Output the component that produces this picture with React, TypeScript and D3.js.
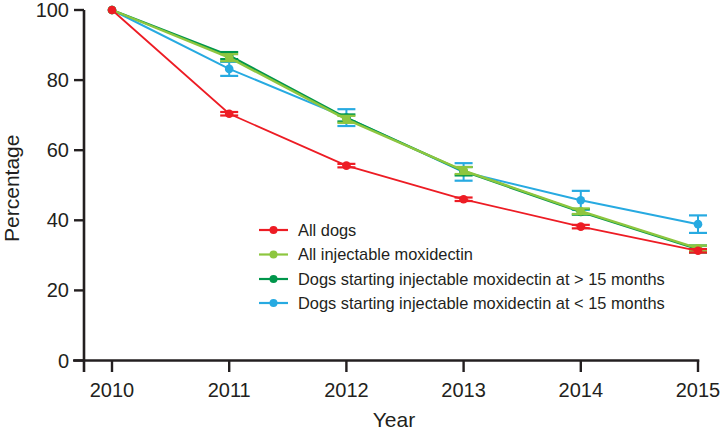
import React from "react";
import * as d3 from "d3";

const years = [2010, 2011, 2012, 2013, 2014, 2015];
const yTicks = [0, 20, 40, 60, 80, 100];

const allDogs = [100, 70.4, 55.6, 46.0, 38.2, 31.3];
const allDogsErr = [0, 0.5, 0.5, 0.5, 0.5, 0.5];
const allInj = [100, 86.4, 68.8, 54.2, 42.6, 32.0];
const allInjErr = [0, 1.0, 1.0, 1.0, 0.8, 0.8];
const over15 = [100, 87.0, 69.2, 54.0, 42.4, 31.8];
const over15Err = [0, 1.0, 1.0, 1.2, 0.8, 1.0];
const under15 = [100, 83.2, 69.3, 53.8, 45.7, 38.9];
const under15Err = [0, 2.0, 2.4, 2.5, 2.7, 2.5];

const seriesNames = [
  "All dogs",
  "All injectable moxidectin",
  "Dogs starting injectable moxidectin at > 15 months",
  "Dogs starting injectable moxidectin at < 15 months",
];
const seriesColors = ["#ed1c24", "#8dc63f", "#00964b", "#27aae1"];

const W = 722;
const H = 430;
const FONT = "'Liberation Sans', Arial, Helvetica, sans-serif";
const AXIS = "#231f20";

export default function App() {
  const x = d3.scaleLinear().domain([2010, 2015]).range([112, 698]);
  const y = d3.scaleLinear().domain([0, 100]).range([360.5, 10]);

  const series = [
    { name: seriesNames[3], color: seriesColors[3], vals: under15, err: under15Err, width: 2 },
    { name: seriesNames[2], color: seriesColors[2], vals: over15, err: over15Err, width: 2.4 },
    { name: seriesNames[1], color: seriesColors[1], vals: allInj, err: allInjErr, width: 2.4 },
    { name: seriesNames[0], color: seriesColors[0], vals: allDogs, err: allDogsErr, width: 1.8 },
  ];

  const line = d3
    .line<number>()
    .x((_, i) => x(years[i]))
    .y((d) => y(d));

  const legendY = [230, 254.5, 279, 303];

  return (
    <svg
      width={W}
      height={H}
      style={{ position: "absolute", left: 0, top: 0, background: "#fff" }}
      fontFamily={FONT}
    >
      {/* axes */}
      <line x1={84} x2={84} y1={y(100)} y2={372} stroke={AXIS} strokeWidth={2.6} />
      <line x1={73} x2={x(2015) + 1.3} y1={y(0)} y2={y(0)} stroke={AXIS} strokeWidth={2.6} />
      {yTicks.map((t) => (
        <g key={t}>
          <line x1={74} x2={84} y1={y(t)} y2={y(t)} stroke={AXIS} strokeWidth={2.4} />
          <text
            x={69}
            y={y(t)}
            dy="0.35em"
            textAnchor="end"
            fontSize={20}
            fill={AXIS}
          >
            {t}
          </text>
        </g>
      ))}
      {years.map((yr) => (
        <g key={yr}>
          <line x1={x(yr)} x2={x(yr)} y1={y(0)} y2={372} stroke={AXIS} strokeWidth={2.4} />
          <text x={x(yr)} y={397} textAnchor="middle" fontSize={20} fill={AXIS}>
            {yr}
          </text>
        </g>
      ))}
      <text x={(84 + 698) / 2 + 3} y={427} textAnchor="middle" fontSize={21} fill={AXIS}>
        Year
      </text>
      <text
        transform={`translate(19, ${y(50) + 3}) rotate(-90)`}
        textAnchor="middle"
        fontSize={21}
        fill={AXIS}
      >
        Percentage
      </text>

      {/* series */}
      {series.map((s) => (
        <g key={s.name}>
          <path d={line(s.vals) || ""} fill="none" stroke={s.color} strokeWidth={s.width} />
          {s.vals.map((v, i) =>
            i === 0 ? null : (
              <g key={i}>
                <line
                  x1={x(years[i])}
                  x2={x(years[i])}
                  y1={y(v + s.err[i])}
                  y2={y(v - s.err[i])}
                  stroke={s.color}
                  strokeWidth={2}
                />
                <line
                  x1={x(years[i]) - 9}
                  x2={x(years[i]) + 9}
                  y1={y(v + s.err[i])}
                  y2={y(v + s.err[i])}
                  stroke={s.color}
                  strokeWidth={2.2}
                />
                <line
                  x1={x(years[i]) - 9}
                  x2={x(years[i]) + 9}
                  y1={y(v - s.err[i])}
                  y2={y(v - s.err[i])}
                  stroke={s.color}
                  strokeWidth={2.2}
                />
              </g>
            )
          )}
          {s.vals.map((v, i) => (
            <circle key={"c" + i} cx={x(years[i])} cy={y(v)} r={4.3} fill={s.color} />
          ))}
        </g>
      ))}

      {/* legend */}
      {seriesNames.map((n, i) => (
        <g key={n}>
          <line
            x1={259}
            x2={288}
            y1={legendY[i]}
            y2={legendY[i]}
            stroke={seriesColors[i]}
            strokeWidth={2.2}
          />
          <circle cx={273.5} cy={legendY[i]} r={4} fill={seriesColors[i]} />
          <text x={298} y={legendY[i]} dy="0.36em" fontSize={16.4} fill={AXIS}>
            {n}
          </text>
        </g>
      ))}
    </svg>
  );
}
